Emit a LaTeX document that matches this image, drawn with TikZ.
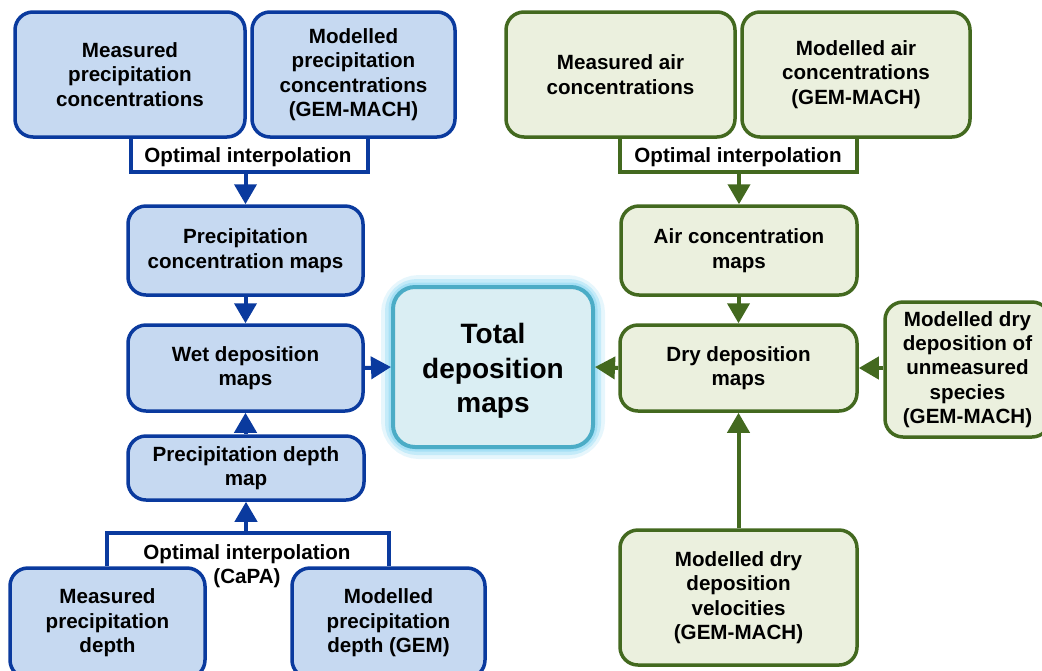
\documentclass[tikz,border=0pt]{standalone}
\usepackage{fontspec}
\setmainfont{Liberation Sans}
\usetikzlibrary{arrows.meta}
\definecolor{bfill}{HTML}{C6D9F1}
\definecolor{bline}{HTML}{0A3A9E}
\definecolor{gfill}{HTML}{EBF0DE}
\definecolor{gline}{HTML}{43691F}
\definecolor{tfill}{HTML}{DAEEF3}
\definecolor{tline}{HTML}{4BACC6}
\definecolor{glowa}{HTML}{E6F6FC}
\definecolor{glowb}{HTML}{C4EBF9}
\definecolor{glowc}{HTML}{A6E0F5}
\tikzset{
  x=0.5pt, y=-0.5pt,
  sz/.style 2 args={minimum width=#1*0.5pt, minimum height=#2*0.5pt},
  txt/.style={font=\bfseries\fontsize{10.3}{12.2}\selectfont, align=center, inner sep=0pt},
  bbox/.style={txt, draw=bline, fill=bfill, line width=1.75pt, rounded corners=9pt},
  gbox/.style={txt, draw=gline, fill=gfill, line width=1.75pt, rounded corners=9pt},
  barr/.style={draw=bline, line width=2pt, -{Triangle[width=11pt,length=10pt]}},
  garr/.style={draw=gline, line width=2pt, -{Triangle[width=11pt,length=10pt]}},
  bbr/.style={draw=bline, line width=1.75pt},
  gbr/.style={draw=gline, line width=1.75pt},
}
\begin{document}
\begin{tikzpicture}
\useasboundingbox (0,0) rectangle (1042,670);
% blue side
\node[bbox, sz={230}{125}] (mpc) at (130,74.5) {Measured\\precipitation\\concentrations};
\node[bbox, sz={203}{125}] (mopc) at (353.5,74.5) {Modelled\\precipitation\\concentrations\\(GEM-MACH)};
\node[bbox, sz={235}{89}] (pcm) at (245.5,250.5) {Precipitation\\concentration maps};
\node[bbox, sz={235}{86}] (wet) at (245.5,368) {Wet deposition\\maps};
\node[bbox, sz={236}{64}] (pdm) at (246,468) {Precipitation depth\\map};
\node[bbox, sz={195}{110}] (mpd) at (107.5,623) {Measured\\precipitation\\depth};
\node[bbox, sz={193}{110}] (mopd) at (388.5,623) {Modelled\\precipitation\\depth (GEM)};
% total
\draw[glowa, line width=12pt, rounded corners=13pt] (393,287) rectangle (593,447);
\draw[glowb, line width=8pt, rounded corners=12pt] (393,287) rectangle (593,447);
\draw[glowc, line width=4.5pt, rounded corners=11pt] (393,287) rectangle (593,447);
\node[draw=tline, fill=tfill, line width=2pt, rounded corners=11pt, sz={200}{160}, inner sep=0pt] (total) at (493,367) {};
\node[txt, font=\bfseries\fontsize{14}{17.3}\selectfont] (totaltext) at (493,371) {Total\\deposition\\maps};
% green side
\node[gbox, sz={229}{125}] (mac) at (620.5,74.5) {Measured air\\concentrations};
\node[gbox, sz={228}{125}] (moac) at (856,74.5) {Modelled air\\concentrations\\(GEM-MACH)};
\node[gbox, sz={236}{89}] (acm) at (739,250.5) {Air concentration\\maps};
\node[gbox, sz={237}{86}] (dry) at (738.5,368) {Dry deposition\\maps};
\node[gbox, sz={165}{135}] (unm) at (967.5,369.5) {Modelled dry\\deposition of\\unmeasured\\species\\(GEM-MACH)};
\node[gbox, sz={237}{135}] (vel) at (738.5,597.5) {Modelled dry\\deposition\\velocities\\(GEM-MACH)};
% blue top bracket
\coordinate (b1) at (131,172);
\coordinate (b2) at (368,172);
\coordinate (bm) at (245.5,172);
\draw[bbr] (mpc.south -| b1) -- (b1) -- (b2) -- (mopc.south -| b2);
\node[txt] (oi1) at (248,157) {Optimal interpolation};
\draw[barr] (bm) -- (pcm.north);
\draw[barr] (pcm.south) -- (wet.north);
\draw[barr] (pdm.north -| wet.south) -- (wet.south);
% bottom bracket
\coordinate (c1) at (107,533);
\coordinate (c2) at (389,533);
\coordinate (cm) at (246,533);
\draw[bbr] (mpd.north -| c1) -- (c1) -- (c2) -- (mopd.north -| c2);
\node[txt] (oi2) at (247,566) {Optimal interpolation\\(CaPA)};
\draw[barr] (cm) -- (pdm.south);
\draw[barr] (wet.east) -- (total.west);
% green bracket
\coordinate (g1) at (620,172);
\coordinate (g2) at (857,172);
\coordinate (gm) at (739,172);
\draw[gbr] (mac.south -| g1) -- (g1) -- (g2) -- (moac.south -| g2);
\node[txt] (oi3) at (738,157) {Optimal interpolation};
\draw[garr] (gm) -- (acm.north);
\draw[garr] (acm.south -| dry.north) -- (dry.north);
\draw[garr] (unm.west |- dry.east) -- (dry.east);
\draw[garr] (vel.north) -- (dry.south);
\draw[garr] (dry.west) -- (total.east);
\end{tikzpicture}
\end{document}
